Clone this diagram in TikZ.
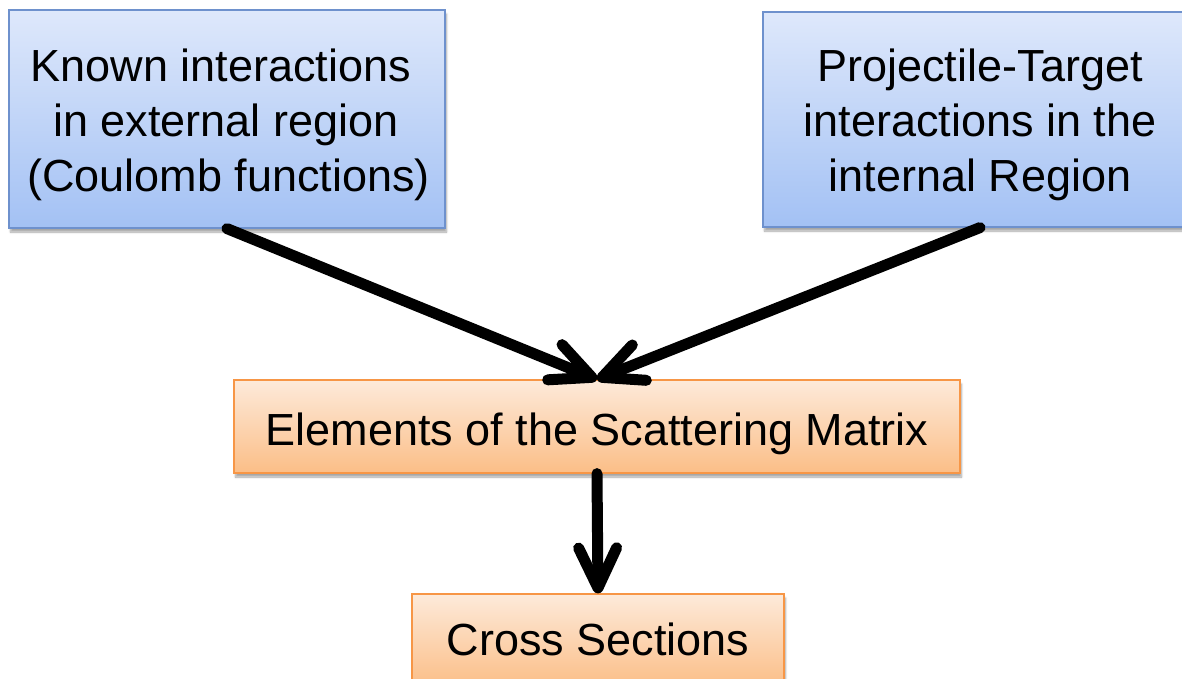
\documentclass[tikz,border=0pt]{standalone}
\usepackage{fontspec}
\setmainfont{Liberation Sans}
\usetikzlibrary{arrows.meta,shadows.blur}

\definecolor{blueTop}{RGB}{222,232,251}
\definecolor{blueBot}{RGB}{163,193,244}
\definecolor{blueEdge}{RGB}{110,145,205}
\definecolor{orTop}{RGB}{253,234,218}
\definecolor{orBot}{RGB}{251,190,135}
\definecolor{orEdge}{RGB}{247,150,70}

\begin{document}
\begin{tikzpicture}[x=1pt,y=-1pt,
  box/.style={rectangle, draw, line width=1.2pt, inner sep=0pt,
    blur shadow={shadow xshift=1.5pt, shadow yshift=-4pt, shadow blur steps=6, shadow opacity=35}},
  bluebox/.style={box, draw=blueEdge, top color=blueTop, bottom color=blueBot},
  orangebox/.style={box, draw=orEdge, top color=orTop, bottom color=orBot},
  txt/.style={anchor=base, inner sep=0pt, font=\fontsize{45}{54}\selectfont},
  flow/.style={line width=11pt, line cap=round,
    -{Straight Barb[length=40pt,width=38pt,round]}}
]
\useasboundingbox (0,0) rectangle (1182,679);
\clip (0,0) rectangle (1182,679);

% boxes
\node[bluebox, minimum width=436pt, minimum height=218pt] (ext) at (227,119) {};
\node[bluebox, minimum width=434pt, minimum height=215pt] (int) at (980,119.5) {};
\node[orangebox, minimum width=726pt, minimum height=93pt] (smat) at (597,426.5) {};
\node[orangebox, minimum width=372pt, minimum height=93pt] (xsec) at (598,640.5) {};

% labels
\node[txt] (ext1) at (221,82) {Known interactions};
\node[txt] (ext2) at (226,137) {in external region};
\node[txt] (ext3) at (228.5,191) {(Coulomb functions)};
\node[txt] (int1) at (980,82) {Projectile-Target};
\node[txt] (int2) at (980,137) {interactions in the};
\node[txt] (int3) at (980,191) {internal Region};
\node[txt] (smat1) at (597,445) {Elements of the Scattering Matrix};
\node[txt] (xsec1) at (598,655) {Cross Sections};

% connectors
\draw[flow] (ext.south) -- (smat.north);
\draw[flow] (int.south) -- (smat.north);
\draw[flow] (smat.south) -- (xsec.north);
\end{tikzpicture}
\end{document}
